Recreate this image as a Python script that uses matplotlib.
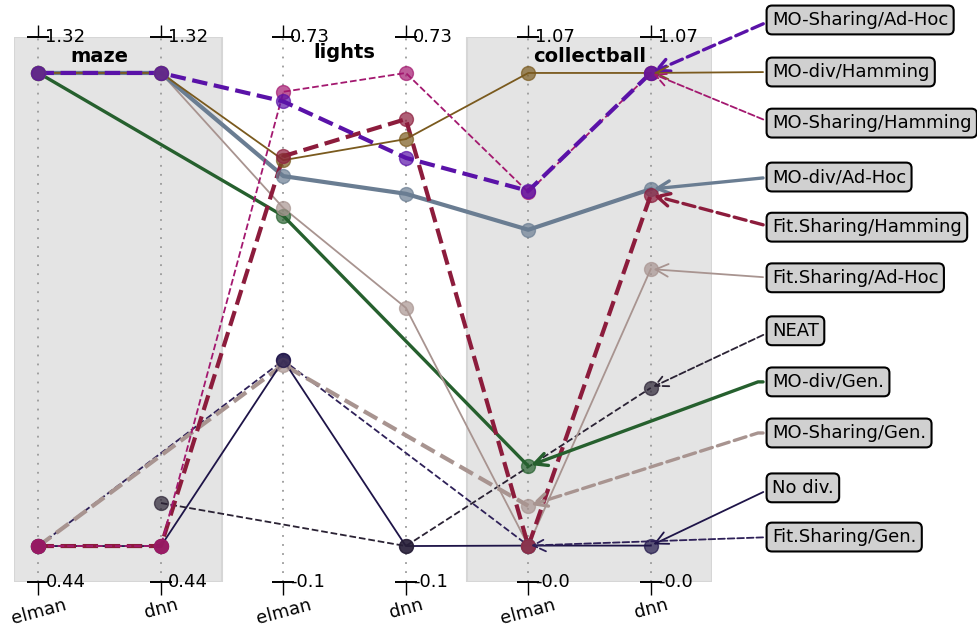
import numpy as np
import matplotlib
matplotlib.use("Agg")
import matplotlib.pyplot as plt

nan = np.nan
methods = ["MO-Sharing/Ad-Hoc", "MO-div/Hamming", "MO-Sharing/Hamming", "MO-div/Ad-Hoc",
           "Fit.Sharing/Hamming", "Fit.Sharing/Ad-Hoc", "NEAT", "MO-div/Gen.",
           "MO-Sharing/Gen.", "No div.", "Fit.Sharing/Gen."]
tasks = ["maze", "lights", "collectball"]
archs = ["elman", "dnn"]

maze_elman = [1.32, 1.32, 0.44, 1.32, 0.44, 1.32, nan, 1.32, 0.44, 0.44, 0.44]
maze_dnn = [1.32, 1.32, 0.44, 1.32, 0.44, 1.32, 0.52, nan, nan, 0.44, nan]
lights_elman = [0.68, 0.577, 0.697, 0.549, 0.584, 0.493, nan, 0.479, 0.218, 0.226, 0.226]
lights_dnn = [0.581, 0.614, 0.73, 0.518, 0.649, 0.318, -0.10, nan, nan, -0.10, nan]
collectball_elman = [0.803, 1.07, 0.80, 0.715, -0.001, 0.0, nan, 0.180, 0.090, 0.0, 0.0]
collectball_dnn = [1.07, 1.07, 1.07, 0.807, 0.794, 0.626, 0.357, nan, nan, 0.0, nan]

columns = [maze_elman, maze_dnn, lights_elman, lights_dnn, collectball_elman, collectball_dnn]

# styles: color, linewidth, linestyle
styles = {
    "MO-Sharing/Ad-Hoc": ("#5a12a8", 3.0, "--"),
    "MO-div/Hamming": ("#7a5a1e", 1.3, "-"),
    "MO-Sharing/Hamming": ("#a3186f", 1.3, "--"),
    "MO-div/Ad-Hoc": ("#6a7d92", 3.0, "-"),
    "Fit.Sharing/Hamming": ("#8c1c3c", 3.0, "--"),
    "Fit.Sharing/Ad-Hoc": ("#a89490", 1.3, "-"),
    "NEAT": ("#2a2234", 1.3, "--"),
    "MO-div/Gen.": ("#26602e", 2.4, "-"),
    "MO-Sharing/Gen.": ("#a89490", 3.0, "--"),
    "No div.": ("#1e1448", 1.3, "-"),
    "Fit.Sharing/Gen.": ("#2e2058", 1.3, "--"),
}
draw_order = ["Fit.Sharing/Gen.", "MO-Sharing/Gen.", "No div.", "NEAT", "MO-div/Gen.",
              "Fit.Sharing/Ad-Hoc", "MO-div/Ad-Hoc", "MO-div/Hamming",
              "Fit.Sharing/Hamming", "MO-Sharing/Hamming", "MO-Sharing/Ad-Hoc"]
label_y = [1.112, 1.002, 0.894, 0.780, 0.674, 0.567, 0.455, 0.347, 0.239, 0.123, 0.019]
bent = {"MO-div/Gen.", "MO-Sharing/Gen."}

data = np.array(columns, dtype=float)  # shape (6, n_methods)
norm = np.empty_like(data)
ticklo, tickhi = [], []
for t in range(3):
    block = data[2 * t:2 * t + 2]
    lo, hi = np.nanmin(block), np.nanmax(block)
    norm[2 * t:2 * t + 2] = (block - lo) / (hi - lo)
    ticklo.append(lo)
    tickhi.append(hi)

fig = plt.figure(figsize=(9.78, 6.33), dpi=100)
ax = fig.add_axes([14 / 978, 51 / 633, 698 / 978, 545 / 633])
ylo, yhi = -0.076, 1.076
ax.set_xlim(-0.2, 5.5)
ax.set_ylim(ylo, yhi)
for s in ax.spines.values():
    s.set_visible(False)

ax.axvspan(-0.2, 1.5, facecolor="#e4e4e4", edgecolor="#d6d6d6", lw=1.5, zorder=0)
ax.axvspan(3.5, 5.5, facecolor="#e4e4e4", edgecolor="#d6d6d6", lw=1.5, zorder=0)

xpos = np.arange(6)
for x in xpos:
    ax.axvline(x, color="#9a9a9a", ls=(0, (1, 4)), lw=1.3, zorder=1)

# tick dashes and value labels
for i, x in enumerate(xpos):
    t = i // 2
    ax.plot([x, x], [ylo, yhi], ls="none", marker="_", ms=16, mew=1.4, color="black", clip_on=False, zorder=5)
    ax.annotate(f"{round(tickhi[t], 2)}", xy=(x, yhi), xytext=(5, 0), textcoords="offset points",
                ha="left", va="center", fontsize=13, annotation_clip=False)
    ax.annotate(f"{round(ticklo[t], 2)}", xy=(x, ylo), xytext=(5, 0), textcoords="offset points",
                ha="left", va="center", fontsize=13, annotation_clip=False)

ax.set_xticks(xpos)
ax.set_xticklabels(archs * 3, rotation=15, fontsize=13)
ax.tick_params(axis="x", direction="out", length=9, width=1.0, top=True, bottom=True, pad=1)
ax.set_yticks([])

# group titles
title_y = [1.034, 1.044, 1.034]
for t, name in enumerate(tasks):
    ax.text(2 * t + 0.5, title_y[t], name, ha="center", va="center", fontsize=14, fontweight="bold", zorder=6)

# series
idx = {m: i for i, m in enumerate(methods)}
for m in draw_order:
    j = idx[m]
    c, lw, ls = styles[m]
    ys = norm[:, j]
    ok = ~np.isnan(ys)
    ax.plot(xpos[ok], ys[ok], color=c, lw=lw, ls=ls, zorder=3, clip_on=False)
    ax.plot(xpos[ok], ys[ok], ls="none", marker="o", ms=10, color=c, alpha=0.7, zorder=4, clip_on=False)

# labels with arrows
for j, m in enumerate(methods):
    c, lw, ls = styles[m]
    ys = norm[:, j]
    last = np.where(~np.isnan(ys))[0][-1]
    cs = "arc,angleA=180,armA=14,angleB=0,armB=0,rad=0" if m in bent else "arc3"
    ax.annotate(m, xy=(xpos[last], ys[last]), xytext=(5.99, label_y[j]),
                ha="left", va="center", fontsize=13, annotation_clip=False, zorder=7,
                bbox=dict(boxstyle="round,pad=0.3", fc="#d0d0d0", ec="black", lw=1.5),
                arrowprops=dict(arrowstyle="->,head_length=0.7,head_width=0.35", color=c, lw=min(lw, 2.4),
                                ls=ls, relpos=(0, 0.5), shrinkA=2, shrinkB=2, connectionstyle=cs))

fig.savefig("out.png", dpi=100)
